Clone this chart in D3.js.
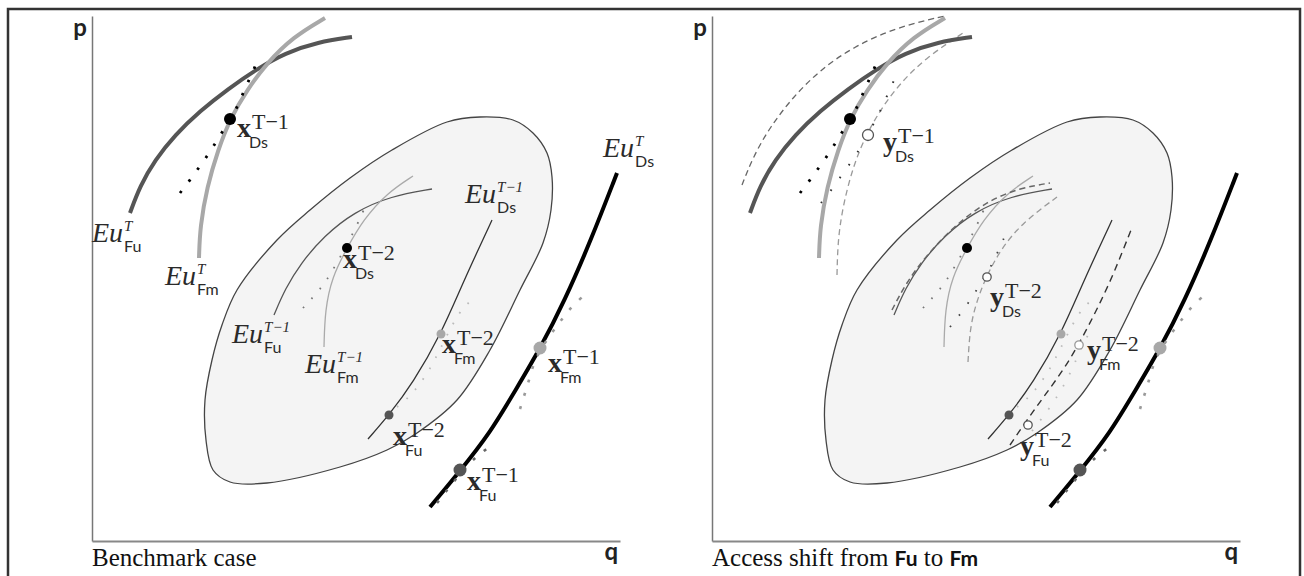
<!DOCTYPE html>
<html><head><meta charset="utf-8">
<script src="https://cdn.jsdelivr.net/npm/d3@7"></script>
<style>body{margin:0;background:#fff}svg{display:block}</style>
</head><body><svg id="c" width="1304" height="576"></svg>
<script>
// ---------- data (q, p) in diagram units ----------
const Q_MAX = 528, P_MAX = 525;
const captions = ["Benchmark case", "Access shift from |Fu| to |Fm|"];
const axisNames = ["p", "q"];

// equal-utility curves, period T
const euFuT = [[38,328],[48,355],[63,381],[83,406],[108,430],[136,452],[165,472],[193,488],[226,499],[260,504]];
const euFmT = [[107,283],[108,314],[115,354],[126,391],[138,422],[155,451],[175,478],[201,504],[233,523]];
const euDsT = [[338,34],[368,70],[398,108],[423,150],[448,192],[473,241],[499,301],[525,368]];
// period T-1
const euFuT1 = [[182,226],[193,252],[209,278],[232,305],[262,329],[299,345],[340,352]];
const euFmT1 = [[232,194],[233,231],[240,264],[255,293],[271,321],[295,348],[321,365]];
const euDsT1 = [[276,102],[297,126],[321,158],[349,207],[370,256],[387,293],[400,321]];
// feasible region
const region = [[388,424],[421,421],[441,408],[455,388],[460,364],[459,331],[451,298],[428,251],[398,191],[365,141],[325,108],[295,91],[248,74],[175,58],[138,59],[121,71],[114,101],[113,141],[120,181],[130,216],[145,251],[185,301],[218,331],[258,363],[300,391],[355,419]];
// dotted traces
const dotsFuFmT = [[88,348],[98,361],[108,375],[118,389],[127,404],[136,418],[145,433],[151,448],[158,463],[165,479]];
const dotsFuFmT1 = [[211,233],[223,246],[233,258],[242,273],[255,296],[266,318],[273,334]];
const dotsDsT1 = [[305,134],[320,146],[338,171],[352,200],[368,231],[380,241]];
const dotsDsTlow = [[345,38],[355,51],[376,77],[390,89],[403,98]];
const dotsDsTup = [[428,132],[433,148],[438,164],[443,183],[460,209],[471,223],[481,236],[495,248]];
// shifted curves (access shift panel only)
const shFuT = [[30,356],[41,384],[58,414],[81,444],[108,471],[141,494],[185,514],[233,525]];
const shFmT = [[125,266],[126,308],[135,354],[148,394],[166,428],[188,458],[215,484],[251,508]];
const dotsShFmT = [[109,338],[121,353],[131,368],[143,384],[152,400],[161,416],[170,433],[177,450],[185,467]];
const shFuT1 = [[180,231],[194,258],[214,285],[241,314],[275,340],[308,353],[338,358]];
const shFmT1 = [[256,179],[258,214],[265,241],[275,266],[289,292],[310,318],[345,344]];
const dotsShFmT1 = [[238,214],[250,229],[261,245],[270,260],[280,276],[288,294],[296,312]];
const shDsT1 = [[298,96],[315,121],[333,146],[355,176],[374,210],[389,240],[402,268],[419,311]];
const dotsShDsT1 = [[320,110],[338,133],[355,160],[366,186],[378,210]];

// equilibrium points
const xPoints = [
  {id:"xDsT1", q:138, p:422, grp:"Ds", big:true},
  {id:"xDsT2", q:255, p:293, grp:"Ds", big:false},
  {id:"xFmT2", q:349, p:207, grp:"Fm", big:false},
  {id:"xFuT2", q:297, p:126, grp:"Fu", big:false},
  {id:"xFmT1", q:448, p:193, grp:"Fm", big:true},
  {id:"xFuT1", q:368, p:71,  grp:"Fu", big:true}
];
const yPoints = [
  {id:"yDsT1", q:156, p:406, grp:"Ds", big:true},
  {id:"yDsT2", q:275, p:264, grp:"Ds", big:false},
  {id:"yFmT2", q:367, p:196, grp:"Fm", big:false},
  {id:"yFuT2", q:316, p:116, grp:"Fu", big:false}
];

// labels
const labelsLeft = [
  {q:0,   p:299, base:"Eu", sup:"T",   sub:"Fu", kind:"eu"},
  {q:73,  p:256, base:"Eu", sup:"T",   sub:"Fm", kind:"eu"},
  {q:140, p:198, base:"Eu", sup:"T−1", sub:"Fu", kind:"eu"},
  {q:213, p:168, base:"Eu", sup:"T−1", sub:"Fm", kind:"eu"},
  {q:373, p:338, base:"Eu", sup:"T−1", sub:"Ds", kind:"eu"},
  {q:511, p:384, base:"Eu", sup:"T",   sub:"Ds", kind:"eu"},
  {q:145, p:404, base:"x", sup:"T−1", sub:"Ds", kind:"pt"},
  {q:251, p:273, base:"x", sup:"T−2", sub:"Ds", kind:"pt"},
  {q:350, p:188, base:"x", sup:"T−2", sub:"Fm", kind:"pt"},
  {q:301, p:96,  base:"x", sup:"T−2", sub:"Fu", kind:"pt"},
  {q:456, p:169, base:"x", sup:"T−1", sub:"Fm", kind:"pt"},
  {q:375, p:51,  base:"x", sup:"T−1", sub:"Fu", kind:"pt"}
];
const labelsRight = [
  {q:171, p:390, base:"y", sup:"T−1", sub:"Ds", kind:"pt"},
  {q:278, p:235, base:"y", sup:"T−2", sub:"Ds", kind:"pt"},
  {q:375, p:182, base:"y", sup:"T−2", sub:"Fm", kind:"pt"},
  {q:308, p:86,  base:"y", sup:"T−2", sub:"Fu", kind:"pt"}
];

// ---------- drawing ----------
const SERIF = "'Liberation Serif','DejaVu Serif',serif";
const SANS = "Lato,'Open Sans',sans-serif";
const grpColor = {Fu:"#555", Fm:"#a8a8a8", Ds:"#000"};
const svg = d3.select("#c");

svg.append("rect").attr("x",8).attr("y",9).attr("width",1292).attr("height",600)
  .attr("fill","none").attr("stroke","#333").attr("stroke-width",2.5);

const x = d3.scaleLinear().domain([0,Q_MAX]).range([0,528]);
const y = d3.scaleLinear().domain([0,P_MAX]).range([525,0]);
const line = d3.line().x(d=>x(d[0])).y(d=>y(d[1])).curve(d3.curveBasis);
const closed = d3.line().x(d=>x(d[0])).y(d=>y(d[1])).curve(d3.curveCatmullRomClosed.alpha(0.5));

function path(g, data, stroke, width, dash){
  const p = g.append("path").attr("d", line(data)).attr("fill","none")
    .attr("stroke", stroke).attr("stroke-width", width);
  if (dash) p.attr("stroke-dasharray", dash);
  return p;
}
function label(g, L){
  const X = x(L.q), Y = y(L.p);
  const eu = L.kind === "eu";
  const t = g.append("text").attr("x",X).attr("y",Y).text(L.base)
    .attr("font-family",SERIF).attr("fill","#2a2a2a")
    .attr("font-size", eu ? 28 : 28)
    .attr("font-style", eu ? "italic" : "normal")
    .attr("font-weight", eu ? "normal" : "bold");
  const w = t.node().getComputedTextLength();
  g.append("text").attr("x", X + w + 1).attr("y", Y - (eu ? 11 : 8)).text(L.sup)
    .attr("font-family",SERIF).attr("fill","#2a2a2a")
    .attr("font-size", eu ? 15 : 22).attr("font-style", eu ? "italic" : "normal");
  g.append("text").attr("x", X + w + (eu ? 1 : -2)).attr("y", Y + (eu ? 10 : 11)).text(L.sub)
    .attr("font-family",SANS).attr("fill","#2a2a2a").attr("font-size",16);
}

[92, 712].forEach((ox, i) => {
  const g = svg.append("g").attr("transform", `translate(${ox},16)`);
  const right = i === 1;
  // axes
  const ay = g.append("g").call(d3.axisLeft(y).tickValues([]).tickSizeOuter(0));
  const ax = g.append("g").attr("transform",`translate(0,${y(0)})`)
    .call(d3.axisBottom(x).tickValues([]).tickSizeOuter(0));
  ay.select(".domain").attr("stroke","#777").attr("stroke-width",1.5);
  ax.select(".domain").attr("stroke","#888").attr("stroke-width",2);
  g.append("text").attr("x",-5).attr("y",20).attr("text-anchor","end").text(axisNames[0])
    .attr("font-family",SANS).attr("font-size",24).attr("font-weight","bold").attr("fill","#222");
  g.append("text").attr("x",x(Q_MAX)-2).attr("y",y(0)+19).attr("text-anchor","end").text(axisNames[1])
    .attr("font-family",SANS).attr("font-size",24).attr("font-weight","bold").attr("fill","#222");
  // caption
  const cap = g.append("text").attr("x",0).attr("y",y(0)+25)
    .attr("font-family",SERIF).attr("font-size",25).attr("fill","#111");
  captions[i].split("|").forEach((s, k) => {
    cap.append("tspan").text(s).attr("font-family", k % 2 ? SANS : SERIF)
      .attr("font-size", k % 2 ? 21 : 25).attr("font-weight", k % 2 ? "bold" : "normal");
  });

  // region
  g.append("path").attr("d", closed(region)).attr("fill","#f4f4f4")
    .attr("stroke","#444").attr("stroke-width",1.3);

  // T-1 curves
  path(g, euFuT1, "#555", 1.3);
  path(g, euFmT1, "#aaa", 1.3);
  path(g, euDsT1, "#333", 1.3);
  path(g, dotsFuFmT1, "#777", 1.8, "1.6,11");
  path(g, dotsDsT1, "#bbb", 1.8, "1.6,11");
  if (right) {
    path(g, shFuT1, "#666", 1.5, "6,4");
    path(g, shFmT1, "#9a9a9a", 1.3, "6,4");
    path(g, dotsShFmT1, "#444", 1.8, "1.6,13");
    path(g, shDsT1, "#333", 1.4, "7,5");
    path(g, dotsShDsT1, "#bbb", 1.8, "1.6,12");
  }

  // T curves
  if (right) {
    path(g, shFuT, "#666", 1.3, "6,4");
    path(g, shFmT, "#9a9a9a", 1.3, "6,4");
    path(g, dotsShFmT, "#333", 2, "1.6,14");
  }
  path(g, euFuT, "#555", 4);
  path(g, euFmT, "#a8a8a8", 4);
  path(g, dotsFuFmT, "#000", 2.8, "2.5,12");
  path(g, euDsT, "#000", 4);
  path(g, dotsDsTlow, "#666", 2.6, "3,11");
  path(g, dotsDsTup, "#9a9a9a", 2.6, "3,11");

  // points
  g.selectAll("circle.x").data(xPoints).join("circle").attr("class","x")
    .attr("cx", d=>x(d.q)).attr("cy", d=>y(d.p))
    .attr("r", d => d.big ? (d.grp === "Ds" ? 6 : 6.5) : (d.grp === "Ds" ? 5 : 4.5))
    .attr("fill", d => grpColor[d.grp]);
  if (right) {
    g.selectAll("circle.y").data(yPoints).join("circle").attr("class","y")
      .attr("cx", d=>x(d.q)).attr("cy", d=>y(d.p)).attr("r", d => d.big ? 5.5 : 4.2)
      .attr("fill","#fff").attr("stroke", d => d.grp === "Fm" ? "#999" : "#555").attr("stroke-width",1.3);
  }

  // labels
  (right ? labelsRight : labelsLeft).forEach(L => label(g, L));
});
</script></body></html>
